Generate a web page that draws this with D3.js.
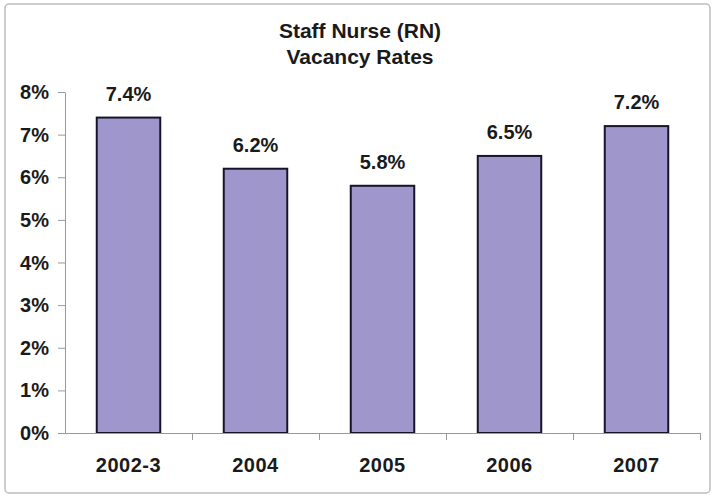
<!DOCTYPE html>
<html>
<head>
<meta charset="utf-8">
<script src="https://cdn.jsdelivr.net/npm/d3@7"></script>
<style>
  body { margin: 0; background: #fff; }
  text { font-family: "Liberation Sans", Arial, sans-serif; font-weight: bold; fill: #1a1a1a; }
</style>
</head>
<body>
<div id="chart"></div>
<script>
const years = ["2002-3", "2004", "2005", "2006", "2007"];
const rates = [7.4, 6.2, 5.8, 6.5, 7.2];
const yTicks = [0, 1, 2, 3, 4, 5, 6, 7, 8];
const titleLines = ["Staff Nurse (RN)", "Vacancy Rates"];

const width = 713, height = 503;
const margin = { top: 92, right: 13, bottom: 70, left: 65 };

const svg = d3.select("#chart").append("svg").attr("width", width).attr("height", height)
    .style("display", "block");

// outer frame
svg.append("rect").attr("x", 5).attr("y", 4).attr("width", 705).attr("height", 489)
    .attr("rx", 4).attr("fill", "none").attr("stroke", "#bdbdbd").attr("stroke-width", 1.5);

svg.append("g").selectAll("text").data(titleLines).enter().append("text")
    .attr("x", 360).attr("y", (d, i) => 38 + i * 26)
    .attr("text-anchor", "middle").attr("font-size", 21)
    .text(d => d);

const x = d3.scaleBand().domain(years).range([margin.left, width - margin.right]).paddingInner(0.5).paddingOuter(0.25);
const y = d3.scaleLinear().domain([0, 8]).range([height - margin.bottom, margin.top]);

// y axis: line + ticks from d3, labels drawn as plain text
const yAxis = svg.append("g").attr("transform", `translate(${margin.left},0)`)
    .call(d3.axisLeft(y).tickValues(yTicks).tickFormat("").tickSize(7).tickSizeOuter(0));
yAxis.select(".domain").attr("stroke", "#999");
yAxis.selectAll(".tick line").attr("stroke", "#999");
yAxis.selectAll(".tick text").remove();

svg.append("g").selectAll("text").data(yTicks).enter().append("text")
    .attr("x", margin.left - 16)
    .attr("y", d => y(d) + 7)
    .attr("text-anchor", "end").attr("font-size", 20)
    .text(d => d + "%");

svg.selectAll(".bar").data(years).enter().append("rect")
    .attr("class", "bar")
    .attr("x", d => x(d))
    .attr("width", x.bandwidth())
    .attr("y", (d, i) => y(rates[i]))
    .attr("height", (d, i) => y(0) - y(rates[i]))
    .attr("fill", "#9f97cc").attr("stroke", "#15152a").attr("stroke-width", 2);

svg.selectAll(".val").data(years).enter().append("text")
    .attr("x", d => x(d) + x.bandwidth() / 2)
    .attr("y", (d, i) => y(rates[i]) - 17)
    .attr("text-anchor", "middle").attr("font-size", 20)
    .text((d, i) => rates[i].toFixed(1) + "%");

// x axis with ticks between categories
const xBoundary = d3.scaleLinear().domain([0, years.length]).range([margin.left, width - margin.right]);
const xAxis = svg.append("g").attr("transform", `translate(0,${y(0)})`)
    .call(d3.axisBottom(xBoundary).ticks(years.length).tickFormat("").tickSize(7).tickSizeOuter(0));
xAxis.select(".domain").attr("stroke", "#999");
xAxis.selectAll(".tick line").attr("stroke", "#999");
xAxis.selectAll(".tick text").remove();
xAxis.selectAll(".tick").filter(d => d === 0).remove();

svg.append("g").selectAll("text").data(years).enter().append("text")
    .attr("x", d => x(d) + x.bandwidth() / 2)
    .attr("y", y(0) + 39)
    .attr("text-anchor", "middle").attr("font-size", 20).attr("letter-spacing", "0.5px")
    .text(d => d);
</script>
</body>
</html>
